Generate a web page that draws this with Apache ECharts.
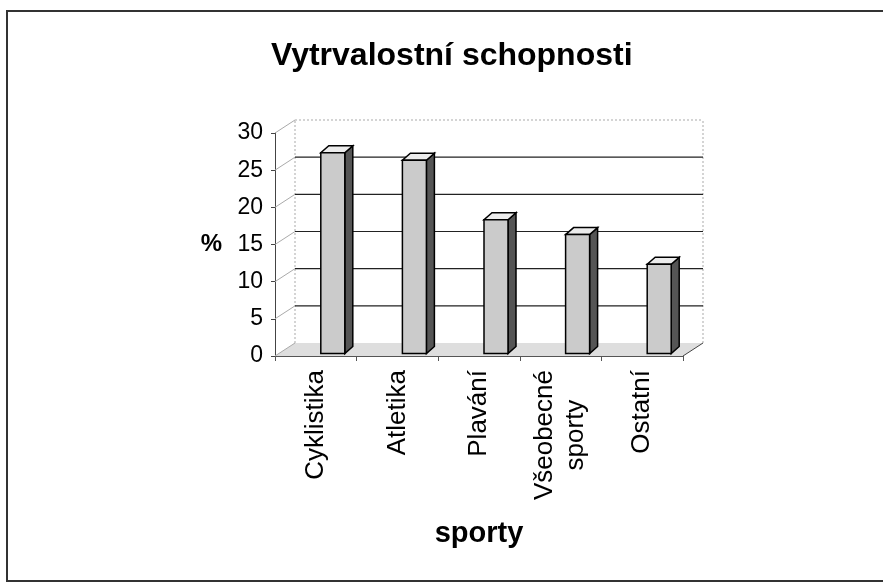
<!DOCTYPE html>
<html><head><meta charset="utf-8">
<script src="https://cdn.jsdelivr.net/npm/echarts@6/dist/echarts.min.js"></script>
<style>html,body{margin:0;padding:0;background:#fff}#c{width:883px;height:583px}</style>
</head><body><div id="c"></div>
<script>
// ---- data ----
const categories = ['Cyklistika', 'Atletika', 'Plavání', 'Všeobecné\nsporty', 'Ostatní'];
const values = [27, 26, 18, 16, 12];
const yTicks = [0, 5, 10, 15, 20, 25, 30];
const titleText = 'Vytrvalostní schopnosti';
const xName = 'sporty';
const yName = '%';

// ---- style constants ----
const FONT = '"Liberation Sans", Arial, sans-serif';
const DX = 20, DY = -13;                 // wall depth offset
const BX0 = 5, BX1 = 29, BDX = 8, BDY = -7, BY = -2.5; // bar geometry

const chart = echarts.init(document.getElementById('c'), null, { renderer: 'canvas' });

function wallRender(params, api) {
  const n = categories.length;
  const band = api.size([1, 0])[0];
  const x0 = api.coord([0, 0])[0] - band / 2;
  const x1 = api.coord([n - 1, 0])[0] + band / 2;
  const y0 = api.coord([0, yTicks[0]])[1];
  const yT = api.coord([0, yTicks[yTicks.length - 1]])[1];
  const ch = [];
  // floor
  ch.push({ type: 'polygon', shape: { points: [[x0, y0], [x1, y0], [x1 + DX, y0 + DY], [x0 + DX, y0 + DY]] },
    style: { fill: '#dedede', stroke: null } });
  // left side wall edge & right edge
  ch.push({ type: 'line', shape: { x1: x0 + DX, y1: y0 + DY, x2: x0 + DX, y2: yT + DY },
    style: { stroke: '#aaa', lineWidth: 1, lineDash: [2, 2] } });
  ch.push({ type: 'line', shape: { x1: x1 + DX, y1: y0 + DY, x2: x1 + DX, y2: yT + DY },
    style: { stroke: '#aaa', lineWidth: 1, lineDash: [2, 2] } });
  yTicks.forEach((v, k) => {
    const y = api.coord([0, v])[1];
    if (k > 0 && k < yTicks.length - 1) {
      ch.push({ type: 'line', shape: { x1: x0 + DX, y1: y + DY, x2: x1 + DX, y2: y + DY },
        style: { stroke: '#222', lineWidth: 1.2 } });
    } else if (k === yTicks.length - 1) {
      ch.push({ type: 'line', shape: { x1: x0 + DX, y1: y + DY, x2: x1 + DX, y2: y + DY },
        style: { stroke: '#aaa', lineWidth: 1, lineDash: [2, 2] } });
    }
    ch.push({ type: 'line', shape: { x1: x0, y1: y, x2: x0 + DX, y2: y + DY },
      style: { stroke: '#aaa', lineWidth: 1 } });
  });
  // floor right edge
  ch.push({ type: 'line', shape: { x1: x1, y1: y0, x2: x1 + DX, y2: y0 + DY },
    style: { stroke: '#444', lineWidth: 1 } });
  return { type: 'group', children: ch };
}

function barRender(params, api) {
  const i = api.value(0), v = api.value(1);
  const c = api.coord([i, v]);
  const b = api.coord([i, 0]);
  const L = c[0] + BX0, R = c[0] + BX1, T = c[1] + BY, B = b[1] + BY;
  return {
    type: 'group',
    children: [
      { type: 'polygon', shape: { points: [[R, T], [R + BDX, T + BDY], [R + BDX, B + BDY], [R, B]] },
        style: { fill: '#555', stroke: '#000', lineWidth: 1.5 } },
      { type: 'polygon', shape: { points: [[L, T], [R, T], [R + BDX, T + BDY], [L + BDX, T + BDY]] },
        style: { fill: '#ececec', stroke: '#000', lineWidth: 1.5 } },
      { type: 'rect', shape: { x: L, y: T, width: R - L, height: B - T },
        style: { fill: '#cbcbcb', stroke: '#000', lineWidth: 1.5 } }
    ]
  };
}

const option = {
  backgroundColor: '#fff',
  animation: false,
  title: {
    text: titleText, left: 266, top: 35, padding: 5,
    textStyle: { fontFamily: FONT, fontSize: 32, fontWeight: 'bold', color: '#000' }
  },
  graphic: [{
    type: 'rect', shape: { x: 7, y: 11, width: 900, height: 570 },
    style: { fill: 'none', stroke: '#333', lineWidth: 2 }, silent: true
  }],
  grid: { left: 275, right: 200, top: 133, bottom: 227, containLabel: false },
  xAxis: {
    type: 'category', data: categories,
    name: xName, nameLocation: 'middle', nameGap: 163,
    nameTextStyle: { fontFamily: FONT, fontSize: 29, fontWeight: 'bold', color: '#000' },
    axisLine: { show: true, lineStyle: { color: '#555', width: 1 } },
    axisTick: { show: true, length: 5, lineStyle: { color: '#555' } },
    axisLabel: {
      rotate: 90, margin: 14, interval: 0,
      formatter: (v) => v.split('\n').map(s => '{c|' + s + '}').join('\n'),
      rich: { c: { fontFamily: FONT, fontSize: 26, color: '#000', align: 'center', lineHeight: 31 } }
    },
    splitLine: { show: false }
  },
  yAxis: {
    type: 'value', min: 0, max: 30, interval: 5,
    name: yName, nameLocation: 'middle', nameRotate: 0, nameGap: 53,
    nameTextStyle: { fontFamily: FONT, fontSize: 24, fontWeight: 'bold', color: '#000' },
    axisLine: { show: true, lineStyle: { color: '#444', width: 1 } },
    axisTick: { show: true, length: 4, lineStyle: { color: '#444' } },
    axisLabel: { fontFamily: FONT, fontSize: 23, color: '#000', margin: 12 },
    splitLine: { show: false }
  },
  series: [
    { type: 'custom', name: 'walls', renderItem: wallRender, data: [[0, 0]], clip: false, z: 1, silent: true },
    { type: 'custom', name: 'Vytrvalostní schopnosti', renderItem: barRender,
      data: values.map((v, i) => [i, v]), clip: false, z: 3 }
  ]
};
chart.setOption(option);
</script></body></html>
